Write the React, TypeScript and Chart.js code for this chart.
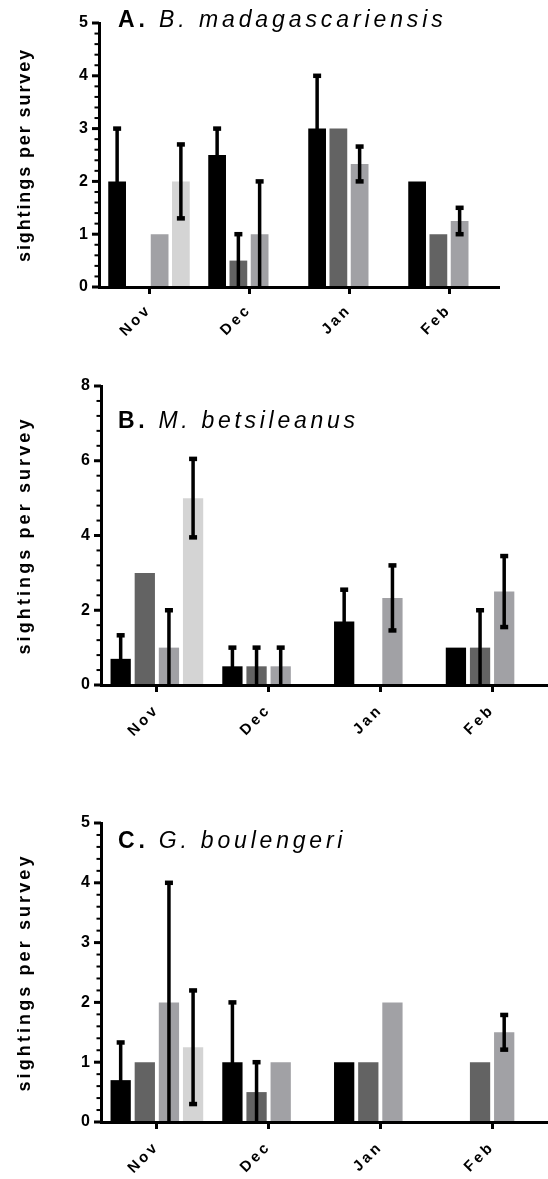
import React, { useEffect, useRef } from 'react';
import { Chart, registerables } from 'chart.js';

Chart.register(...registerables);

const FONT = '"Liberation Sans", Arial, Helvetica, sans-serif';

const months = ['Nov', 'Dec', 'Jan', 'Feb'];
const seriesColors = ['#000000', '#636363', '#a1a1a5', '#d4d4d4'];
const yAxisTitle = 'sightings per survey';

// Panel A – B. madagascariensis
const aSeries1 = [2, 2.5, 3, 2];
const aSeries1Err = [1, 0.5, 1, 0];
const aSeries2 = [null, 0.5, 3, 1];
const aSeries2Err = [0, 0.5, 0, 0];
const aSeries3 = [1, 1, 2.33, 1.25];
const aSeries3Err = [0, 1, 0.33, 0.25];
const aSeries4 = [2, null, null, null];
const aSeries4Err = [0.7, 0, 0, 0];

// Panel B – M. betsileanus
const bSeries1 = [0.7, 0.5, 1.7, 1];
const bSeries1Err = [0.63, 0.5, 0.85, 0];
const bSeries2 = [3, 0.5, null, 1];
const bSeries2Err = [0, 0.5, 0, 1];
const bSeries3 = [1, 0.5, 2.33, 2.5];
const bSeries3Err = [1, 0.5, 0.87, 0.95];
const bSeries4 = [5, null, null, null];
const bSeries4Err = [1.05, 0, 0, 0];

// Panel C – G. boulengeri
const cSeries1 = [0.7, 1, 1, null];
const cSeries1Err = [0.63, 1, 0, 0];
const cSeries2 = [1, 0.5, 1, 1];
const cSeries2Err = [0, 0.5, 0, 0];
const cSeries3 = [2, 1, 2, 1.5];
const cSeries3Err = [2, 0, 0, 0.29];
const cSeries4 = [1.25, null, null, null];
const cSeries4Err = [0.95, 0, 0, 0];

type PanelCfg = {
  top: number;
  height: number;
  padTop: number;
  padRight: number;
  yWidth: number;
  xHeight: number;
  yMax: number;
  yStep: number;
  series: (number | null)[][];
  errors: number[][];
  titleBold: string;
  titleItalic: string;
  titleSize: number;
  titleSpacing: number;
  titleX: number;
  titleY: number;
  yTickSize: number;
  yTitleSize: number;
  yTitleSpacing: number;
  xTickSize: number;
  xTickPad: number;
  catPct: number;
  barPct: number;
};

const panels: PanelCfg[] = [
  {
    top: 0, height: 340, padTop: 23, padRight: 49, yWidth: 99, xHeight: 53,
    yMax: 5, yStep: 1,
    series: [aSeries1, aSeries2, aSeries3, aSeries4],
    errors: [aSeries1Err, aSeries2Err, aSeries3Err, aSeries4Err],
    titleBold: 'A.', titleItalic: ' B. madagascariensis', titleSize: 23, titleSpacing: 3.9,
    titleX: 118, titleY: 27,
    yTickSize: 16, yTitleSize: 18, yTitleSpacing: 1.9, xTickSize: 15, xTickPad: 7,
    catPct: 0.85, barPct: 0.835,
  },
  {
    top: 340, height: 420, padTop: 46, padRight: 0, yWidth: 101, xHeight: 75,
    yMax: 8, yStep: 2,
    series: [bSeries1, bSeries2, bSeries3, bSeries4],
    errors: [bSeries1Err, bSeries2Err, bSeries3Err, bSeries4Err],
    titleBold: 'B.', titleItalic: ' M. betsileanus', titleSize: 23, titleSpacing: 3.7,
    titleX: 118, titleY: 88,
    yTickSize: 16, yTitleSize: 18, yTitleSpacing: 3.1, xTickSize: 15, xTickPad: 9,
    catPct: 0.864, barPct: 0.84,
  },
  {
    top: 760, height: 419, padTop: 63, padRight: 0, yWidth: 101, xHeight: 57,
    yMax: 5, yStep: 1,
    series: [cSeries1, cSeries2, cSeries3, cSeries4],
    errors: [cSeries1Err, cSeries2Err, cSeries3Err, cSeries4Err],
    titleBold: 'C.', titleItalic: ' G. boulengeri', titleSize: 23, titleSpacing: 3.8,
    titleX: 118, titleY: 88,
    yTickSize: 16, yTitleSize: 18, yTitleSpacing: 3.1, xTickSize: 15, xTickPad: 9,
    catPct: 0.864, barPct: 0.84,
  },
];

function Panel({ cfg }: { cfg: PanelCfg }) {
  const ref = useRef<HTMLCanvasElement>(null);
  useEffect(() => {
    if (!ref.current) return;
    const decor = {
      id: 'decor',
      beforeLayout(chart: any) {
        chart.ctx.letterSpacing = '3px';
      },
      beforeDraw(chart: any) {
        chart.ctx.letterSpacing = '3px';
      },
      afterDatasetsDraw(chart: any) {
        const ctx = chart.ctx;
        const ys = chart.scales.y;
        ctx.save();
        ctx.strokeStyle = '#000';
        ctx.fillStyle = '#000';
        ctx.lineWidth = 3.5;
        cfg.series.forEach((data, i) => {
          const meta = chart.getDatasetMeta(i);
          data.forEach((v, j) => {
            const e = cfg.errors[i][j];
            if (v === null || !e) return;
            const bar = meta.data[j];
            const x = bar.x;
            const hiV = v + e;
            const loV = Math.max(0, v - e);
            const yHi = ys.getPixelForValue(hiV);
            const yLo = ys.getPixelForValue(loV);
            ctx.beginPath();
            ctx.moveTo(x, yLo);
            ctx.lineTo(x, yHi);
            ctx.stroke();
            ctx.fillRect(x - 4, yHi - 2.25, 8, 4.5);
            if (loV > 0) ctx.fillRect(x - 4, yLo - 2.25, 8, 4.5);
          });
        });
        ctx.restore();
      },
      afterDraw(chart: any) {
        const ctx = chart.ctx;
        const ys = chart.scales.y;
        const area = chart.chartArea;
        ctx.save();
        // y axis major / minor ticks
        ctx.strokeStyle = '#000';
        const minors = 5;
        const n = Math.round((cfg.yMax / cfg.yStep) * minors);
        for (let k = 0; k <= n; k++) {
          const v = (k * cfg.yStep) / minors;
          const major = k % minors === 0;
          const y = ys.getPixelForValue(v);
          ctx.lineWidth = major ? 3 : 2;
          ctx.beginPath();
          ctx.moveTo(area.left - (major ? 7 : 4.5), y);
          ctx.lineTo(area.left, y);
          ctx.stroke();
        }
        // y axis title
        ctx.fillStyle = '#000';
        ctx.letterSpacing = cfg.yTitleSpacing + 'px';
        ctx.font = `bold ${cfg.yTitleSize}px ${FONT}`;
        ctx.textAlign = 'center';
        ctx.textBaseline = 'middle';
        ctx.save();
        ctx.translate(25, (area.top + area.bottom) / 2);
        ctx.rotate(-Math.PI / 2);
        ctx.fillText(yAxisTitle, 0, 0);
        ctx.restore();
        // panel title
        ctx.letterSpacing = cfg.titleSpacing + 'px';
        ctx.textAlign = 'left';
        ctx.textBaseline = 'alphabetic';
        ctx.font = `bold ${cfg.titleSize}px ${FONT}`;
        ctx.fillText(cfg.titleBold, cfg.titleX, cfg.titleY);
        const w = ctx.measureText(cfg.titleBold).width;
        ctx.font = `italic ${cfg.titleSize}px ${FONT}`;
        ctx.fillText(cfg.titleItalic, cfg.titleX + w, cfg.titleY);
        ctx.restore();
      },
    };

    const chart = new Chart(ref.current, {
      type: 'bar',
      data: {
        labels: months,
        datasets: cfg.series.map((data, i) => ({
          label: 'S' + (i + 1),
          data,
          backgroundColor: seriesColors[i],
          borderWidth: 0,
          categoryPercentage: cfg.catPct,
          barPercentage: cfg.barPct,
        })),
      },
      options: {
        animation: false,
        responsive: false,
        devicePixelRatio: 1,
        layout: { padding: { top: cfg.padTop, right: cfg.padRight, left: 0, bottom: 0 } },
        plugins: { legend: { display: false }, tooltip: { enabled: false }, title: { display: false } },
        scales: {
          x: {
            type: 'category',
            offset: true,
            grid: {
              display: true, drawOnChartArea: false, drawTicks: true,
              tickLength: 7, tickWidth: 3, tickColor: '#000', offset: false,
            },
            border: { display: true, color: '#000', width: 3, z: 1 },
            ticks: {
              color: '#000', autoSkip: false, minRotation: 45, maxRotation: 45, padding: cfg.xTickPad,
              font: { family: FONT, size: cfg.xTickSize, weight: 'bold' },
            },
            afterFit: (s: any) => { s.height = cfg.xHeight; s.paddingLeft = 0; s.paddingRight = 0; },
          },
          y: {
            min: 0, max: cfg.yMax,
            grid: { display: true, drawOnChartArea: false, drawTicks: false },
            border: { display: true, color: '#000', width: 3, z: 1 },
            ticks: {
              stepSize: cfg.yStep, color: '#000', padding: 8,
              font: { family: FONT, size: cfg.yTickSize, weight: 'bold' },
            },
            afterFit: (s: any) => { s.width = cfg.yWidth; s.paddingTop = 0; s.paddingBottom = 0; },
          },
        },
      } as any,
      plugins: [decor as any],
    });
    return () => chart.destroy();
  }, [cfg]);
  return (
    <canvas
      ref={ref}
      width={548}
      height={cfg.height}
      style={{ position: 'absolute', left: 0, top: cfg.top, width: 548, height: cfg.height }}
    />
  );
}

export default function App() {
  return (
    <div style={{ position: 'absolute', left: 0, top: 0, width: 548, height: 1179, background: '#fff' }}>
      {panels.map((p, i) => (
        <Panel key={i} cfg={p} />
      ))}
    </div>
  );
}
